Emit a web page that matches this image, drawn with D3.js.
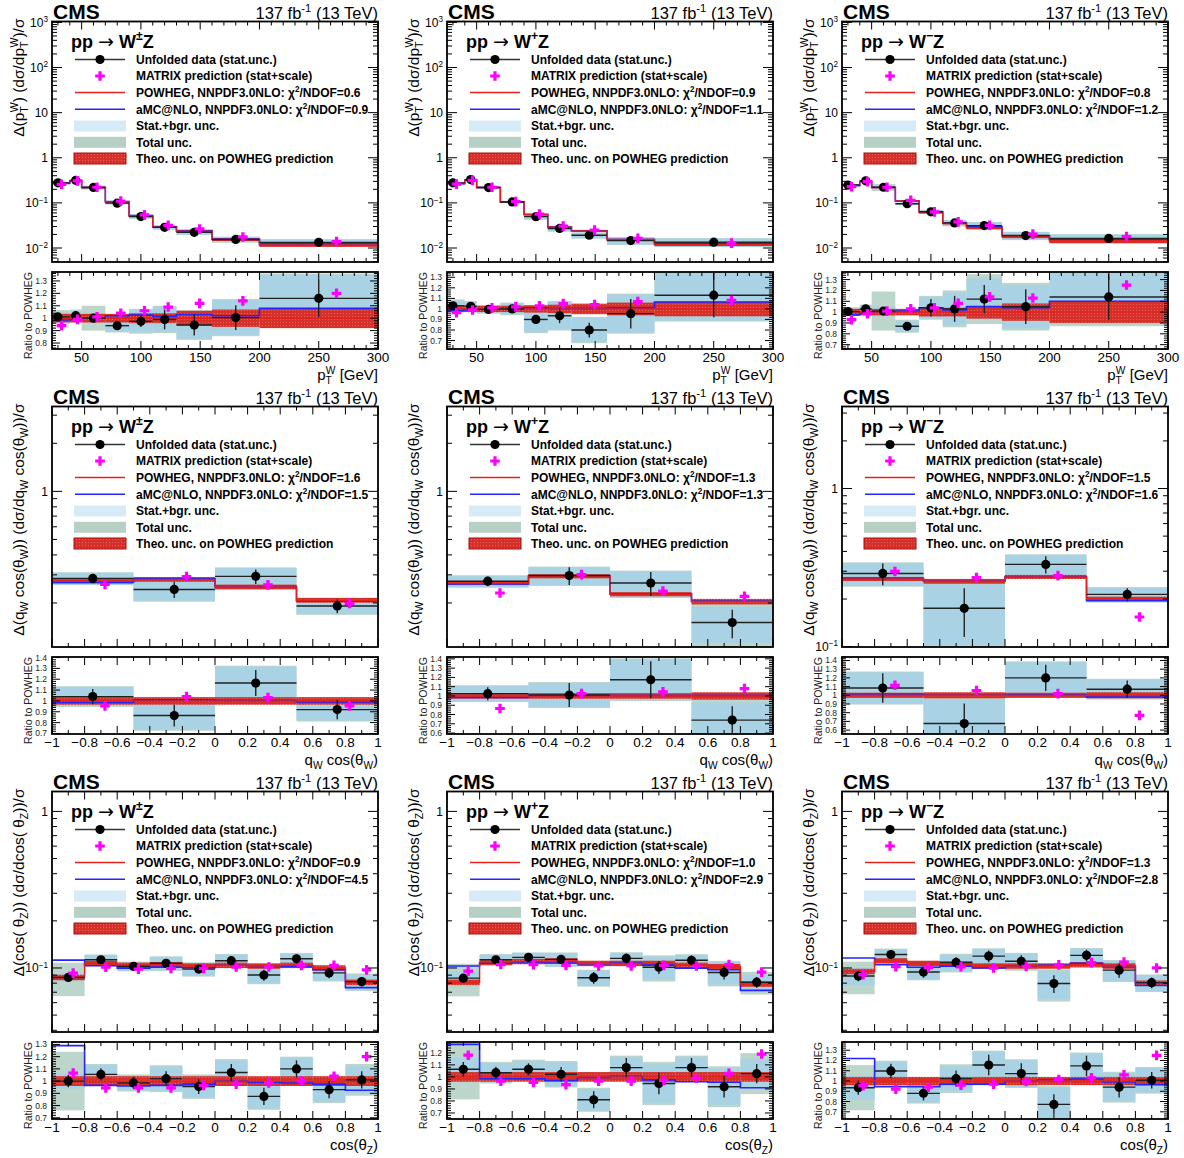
<!DOCTYPE html>
<html>
<head>
<meta charset="utf-8">
<script src="https://cdn.jsdelivr.net/npm/d3@7"></script>
<style>
  html, body { margin: 0; padding: 0; background: #fff; }
  svg { display: block; font-family: "Liberation Sans", Arial, Helvetica, sans-serif; }
</style>
</head>
<body>
<svg id="chart" width="1184" height="1158"></svg>
<script>
// ---------- binning ----------
const ptEdges = [20, 40, 50, 70, 90, 110, 130, 160, 200, 300];
const qcEdges = [-1, -0.5, 0, 0.5, 1];
const czEdges = [-1, -0.8, -0.6, -0.4, -0.2, 0, 0.2, 0.4, 0.6, 0.8, 1];

// Per-bin POWHEG normalized cross sections; everything else is a ratio to POWHEG.
// Uncertainties are half-widths in ratio units.

// ---------- p_T(W), W±Z ----------
const ptWZ_powheg  = [0.275, 0.31, 0.22, 0.105, 0.051, 0.029, 0.0236, 0.0154, 0.0115];
const ptWZ_data    = [1.01, 1.02, 1.0, 0.94, 0.975, 0.99, 0.945, 1.005, 1.16];
const ptWZ_stat    = [0.02, 0.02, 0.02, 0.02, 0.045, 0.08, 0.085, 0.1, 0.15];
const ptWZ_statBgr = [0.035, 0.04, 0.04, 0.05, 0.09, 0.1, 0.11, 0.14, 0.19];
const ptWZ_total   = [0.055, 0.05, 0.1, 0.055, 0.1, 0.11, 0.12, 0.15, 0.2];
const ptWZ_theo    = [0.035, 0.035, 0.035, 0.035, 0.04, 0.04, 0.06, 0.07, 0.08];
const ptWZ_amc     = [0.985, 0.99, 1.0, 1.02, 1.025, 1.015, 1.03, 1.02, 1.08];
const ptWZ_matrix  = [0.94, 0.99, 1.01, 1.04, 1.06, 1.09, 1.12, 1.14, 1.2];

// ---------- p_T(W), W+Z ----------
const ptWpZ_powheg  = [0.27, 0.32, 0.22, 0.105, 0.055, 0.029, 0.024, 0.0153, 0.0119];
const ptWpZ_data    = [1.03, 1.025, 0.995, 1.0, 0.9, 0.935, 0.8, 0.955, 1.13];
const ptWpZ_stat    = [0.02, 0.02, 0.02, 0.03, 0.04, 0.07, 0.07, 0.14, 0.21];
const ptWpZ_statBgr = [0.04, 0.04, 0.03, 0.05, 0.12, 0.13, 0.115, 0.18, 0.24];
const ptWpZ_total   = [0.06, 0.05, 0.04, 0.06, 0.13, 0.14, 0.125, 0.19, 0.25];
const ptWpZ_theo    = [0.03, 0.03, 0.03, 0.03, 0.035, 0.04, 0.05, 0.06, 0.07];
const ptWpZ_amc     = [0.985, 0.99, 1.0, 1.005, 1.01, 1.005, 1.005, 1.01, 1.065];
const ptWpZ_matrix  = [0.965, 0.99, 1.01, 1.02, 1.03, 1.05, 1.04, 1.07, 1.08];

// ---------- p_T(W), W-Z ----------
const ptWmZ_powheg  = [0.247, 0.30, 0.22, 0.11, 0.061, 0.035, 0.028, 0.018, 0.0143];
const ptWmZ_data    = [1.005, 1.03, 1.01, 0.87, 1.04, 1.03, 1.12, 1.05, 1.14];
const ptWmZ_stat    = [0.02, 0.02, 0.02, 0.03, 0.08, 0.12, 0.13, 0.16, 0.21];
const ptWmZ_statBgr = [0.03, 0.035, 0.04, 0.05, 0.1, 0.15, 0.19, 0.2, 0.25];
const ptWmZ_total   = [0.04, 0.04, 0.18, 0.06, 0.11, 0.17, 0.23, 0.22, 0.27];
const ptWmZ_theo    = [0.03, 0.03, 0.03, 0.03, 0.04, 0.04, 0.06, 0.08, 0.1];
const ptWmZ_amc     = [0.975, 0.99, 1.0, 1.01, 1.04, 1.02, 1.05, 1.04, 1.1];
const ptWmZ_matrix  = [0.93, 0.985, 1.01, 1.03, 1.04, 1.08, 1.14, 1.13, 1.25];

// ---------- q_W cos(theta_W), W±Z ----------
const qcWZ_powheg  = [0.274, 0.281, 0.252, 0.208];
const qcWZ_data    = [1.04, 0.865, 1.165, 0.92];
const qcWZ_stat    = [0.07, 0.1, 0.12, 0.09];
const qcWZ_statBgr = [0.09, 0.13, 0.15, 0.1];
const qcWZ_total   = [0.095, 0.14, 0.16, 0.11];
const qcWZ_theo    = [0.035, 0.035, 0.035, 0.035];
const qcWZ_amc     = [0.985, 1.01, 1.005, 0.99];
const qcWZ_matrix  = [0.955, 1.04, 1.03, 0.955];

// ---------- q_W cos(theta_W), W+Z ----------
const qcWpZ_powheg  = [0.267, 0.294, 0.227, 0.204];
const qcWpZ_data    = [1.025, 1.01, 1.175, 0.74];
const qcWpZ_stat    = [0.07, 0.13, 0.2, 0.15];
const qcWpZ_statBgr = [0.085, 0.13, 0.22, 0.19];
const qcWpZ_total   = [0.09, 0.14, 0.23, 0.23];
const qcWpZ_theo    = [0.03, 0.03, 0.03, 0.04];
const qcWpZ_amc     = [0.985, 1.005, 1.005, 1.005];
const qcWpZ_matrix  = [0.865, 1.025, 1.045, 1.08];

// ---------- q_W cos(theta_W), W-Z ----------
const qcWmZ_powheg  = [0.268, 0.259, 0.276, 0.2];
const qcWmZ_data    = [1.083, 0.675, 1.2, 1.07];
const qcWmZ_stat    = [0.17, 0.23, 0.15, 0.1];
const qcWmZ_statBgr = [0.18, 0.28, 0.18, 0.11];
const qcWmZ_total   = [0.19, 0.32, 0.19, 0.12];
const qcWmZ_theo    = [0.03, 0.035, 0.03, 0.035];
const qcWmZ_amc     = [1.01, 1.0, 1.005, 0.98];
const qcWmZ_matrix  = [1.115, 1.055, 1.02, 0.77];

// ---------- cos(theta_Z), W±Z ----------
const czWZ_powheg  = [0.087, 0.107, 0.104, 0.105, 0.103, 0.104, 0.103, 0.104, 0.1, 0.081];
const czWZ_data    = [1.0, 1.055, 0.985, 1.02, 0.955, 1.07, 0.875, 1.1, 0.93, 1.01];
const czWZ_stat    = [0.05, 0.05, 0.05, 0.06, 0.06, 0.07, 0.07, 0.07, 0.07, 0.07];
const czWZ_statBgr = [0.06, 0.075, 0.06, 0.1, 0.09, 0.1, 0.1, 0.09, 0.1, 0.11];
const czWZ_total   = [0.24, 0.085, 0.07, 0.11, 0.1, 0.11, 0.11, 0.1, 0.11, 0.13];
const czWZ_theo    = [0.04, 0.04, 0.04, 0.04, 0.04, 0.04, 0.04, 0.04, 0.04, 0.04];
const czWZ_amc     = [1.29, 0.965, 0.96, 0.965, 0.975, 1.0, 0.99, 0.985, 0.975, 0.925];
const czWZ_matrix  = [1.065, 0.945, 0.945, 0.945, 0.965, 0.975, 0.985, 1.0, 1.04, 1.2];

// ---------- cos(theta_Z), W+Z ----------
const czWpZ_powheg  = [0.081, 0.109, 0.11, 0.111, 0.107, 0.107, 0.107, 0.104, 0.102, 0.079];
const czWpZ_data    = [1.063, 1.035, 1.063, 1.022, 0.81, 1.077, 0.945, 1.077, 0.918, 1.027];
const czWpZ_stat    = [0.06, 0.05, 0.05, 0.06, 0.07, 0.08, 0.09, 0.08, 0.09, 0.08];
const czWpZ_statBgr = [0.1, 0.08, 0.07, 0.1, 0.09, 0.09, 0.16, 0.09, 0.15, 0.12];
const czWpZ_total   = [0.25, 0.09, 0.08, 0.11, 0.1, 0.1, 0.18, 0.1, 0.17, 0.17];
const czWpZ_theo    = [0.04, 0.04, 0.04, 0.04, 0.04, 0.04, 0.04, 0.04, 0.04, 0.04];
const czWpZ_amc     = [1.27, 0.985, 0.985, 0.97, 0.995, 1.005, 0.975, 0.96, 0.955, 0.91];
const czWpZ_matrix  = [1.18, 0.965, 0.955, 0.935, 0.965, 0.965, 0.97, 0.99, 1.03, 1.19];

// ---------- cos(theta_Z), W-Z ----------
const czWmZ_powheg  = [0.095, 0.111, 0.107, 0.106, 0.103, 0.103, 0.103, 0.105, 0.103, 0.08];
const czWmZ_data    = [0.935, 1.098, 0.88, 1.023, 1.156, 1.072, 0.772, 1.147, 0.94, 1.007];
const czWmZ_stat    = [0.07, 0.07, 0.07, 0.08, 0.1, 0.1, 0.1, 0.1, 0.1, 0.08];
const czWmZ_statBgr = [0.12, 0.09, 0.09, 0.12, 0.13, 0.13, 0.16, 0.12, 0.14, 0.12];
const czWmZ_total   = [0.22, 0.1, 0.1, 0.14, 0.14, 0.14, 0.18, 0.13, 0.15, 0.13];
const czWmZ_theo    = [0.04, 0.04, 0.04, 0.04, 0.04, 0.04, 0.04, 0.04, 0.04, 0.04];
const czWmZ_amc     = [1.22, 0.945, 0.945, 0.97, 0.97, 1.0, 1.01, 1.02, 0.99, 0.965];
const czWmZ_matrix  = [0.955, 0.92, 0.94, 0.96, 0.97, 0.995, 1.015, 1.03, 1.06, 1.25];

// ---------- legend / fit-quality texts ----------
const chargeLabels = ['±', '+', '−'];
const chi2Powheg = ['0.6', '0.9', '0.8', '1.6', '1.3', '1.5', '0.9', '1.0', '1.3'];
const chi2Amc    = ['0.9', '1.1', '1.2', '1.5', '1.3', '1.6', '4.5', '2.9', '2.8'];
const legendLabels = [
  'Unfolded data (stat.unc.)',
  'MATRIX prediction (stat+scale)',
  'POWHEG, NNPDF3.0NLO: ',
  'aMC@NLO, NNPDF3.0NLO: ',
  'Stat.+bgr. unc.',
  'Total unc.',
  'Theo. unc. on POWHEG prediction'
];

// ---------- panel table ----------
const sets = [
  { key: 'ptWZ',  P: [ptWZ_powheg, ptWZ_data, ptWZ_stat, ptWZ_statBgr, ptWZ_total, ptWZ_theo, ptWZ_amc, ptWZ_matrix] },
  { key: 'ptWpZ', P: [ptWpZ_powheg, ptWpZ_data, ptWpZ_stat, ptWpZ_statBgr, ptWpZ_total, ptWpZ_theo, ptWpZ_amc, ptWpZ_matrix] },
  { key: 'ptWmZ', P: [ptWmZ_powheg, ptWmZ_data, ptWmZ_stat, ptWmZ_statBgr, ptWmZ_total, ptWmZ_theo, ptWmZ_amc, ptWmZ_matrix] },
  { key: 'qcWZ',  P: [qcWZ_powheg, qcWZ_data, qcWZ_stat, qcWZ_statBgr, qcWZ_total, qcWZ_theo, qcWZ_amc, qcWZ_matrix] },
  { key: 'qcWpZ', P: [qcWpZ_powheg, qcWpZ_data, qcWpZ_stat, qcWpZ_statBgr, qcWpZ_total, qcWpZ_theo, qcWpZ_amc, qcWpZ_matrix] },
  { key: 'qcWmZ', P: [qcWmZ_powheg, qcWmZ_data, qcWmZ_stat, qcWmZ_statBgr, qcWmZ_total, qcWmZ_theo, qcWmZ_amc, qcWmZ_matrix] },
  { key: 'czWZ',  P: [czWZ_powheg, czWZ_data, czWZ_stat, czWZ_statBgr, czWZ_total, czWZ_theo, czWZ_amc, czWZ_matrix] },
  { key: 'czWpZ', P: [czWpZ_powheg, czWpZ_data, czWpZ_stat, czWpZ_statBgr, czWpZ_total, czWpZ_theo, czWpZ_amc, czWpZ_matrix] },
  { key: 'czWmZ', P: [czWmZ_powheg, czWmZ_data, czWmZ_stat, czWmZ_statBgr, czWmZ_total, czWmZ_theo, czWmZ_amc, czWmZ_matrix] }
];
// axis ranges per panel (upper log range, lower ratio range)
const upperRanges = [
  [10 ** -2.31, 10 ** 3.02], [10 ** -2.31, 10 ** 3.02], [10 ** -2.31, 10 ** 3.02],
  [0.106, 3.4], [0.106, 3.4], [0.0995, 3.3],
  [0.039, 1.34], [0.039, 1.34], [0.039, 1.34]
];
const ratioRanges = [
  [0.752, 1.372], [0.62, 1.35], [0.66, 1.37],
  [0.695, 1.405], [0.59, 1.42], [0.555, 1.44],
  [0.69, 1.32], [0.65, 1.29], [0.63, 1.38]
];

// ---------- geometry & style ----------
const PW = 395, PH = 385;
const F = { l: 52, r: 378, ut: 21.5, ub: 262, lt: 272, lb: 349 };
const C = {
  total: '#bdd6cb', stat: '#a9d3e4', statLeg: '#d6eaf8', totalLeg: '#b7d0c5',
  theo: '#d6302a', theoEdge: '#a80e0e', powheg: '#e3211c', amc: '#2424ff',
  matrix: '#ff00ff', data: '#000', err: '#222'
};
const FONT_TXT = 12;

const svg = d3.select('#chart');
const defs = svg.append('defs');

// mixed normal/super/subscript text built from tspans
function rich(sel, parts, fs) {
  let cur = 0;
  parts.forEach(p => {
    const [txt, kind, opts] = p;
    const target = kind === 1 ? -0.4 * fs : kind === -1 ? 0.28 * fs : 0;
    const ts = sel.append('tspan').text(txt).attr('dy', (target - cur).toFixed(2));
    if (kind) ts.attr('font-size', (fs * 0.68).toFixed(2));
    if (opts && opts.dx !== undefined) ts.attr('dx', opts.dx);
    if (opts && opts.w) ts.attr('font-weight', opts.w);
    if (opts && opts.fs) ts.attr('font-size', opts.fs);
    if (opts && opts.ff) ts.attr('font-family', opts.ff);
    cur = target;
  });
  return sel;
}

function linTicks(dom, step) {
  const s = Math.ceil(dom[0] / step - 1e-7), e = Math.floor(dom[1] / step + 1e-7);
  return d3.range(s, e + 1).map(k => +(k * step).toFixed(6));
}
const isMult = (v, step) => Math.abs(v / step - Math.round(v / step)) < 1e-6;

function stepPoints(edges, vals) {
  const pts = [];
  vals.forEach((v, i) => { pts.push([edges[i], v], [edges[i + 1], v]); });
  return pts;
}

function drawPanel(idx) {
  const col = idx % 3, row = Math.floor(idx / 3);
  const [powheg, data, stat, statBgr, total, theo, amc, matrix] = sets[idx].P;
  const kind = row === 0 ? 'pt' : row === 1 ? 'qc' : 'cz';
  const edges = kind === 'pt' ? ptEdges : kind === 'qc' ? qcEdges : czEdges;
  const xDom = kind === 'pt' ? [25, 300] : [-1, 1];

  const g = svg.append('g').attr('transform', `translate(${col * PW},${row * PH})`);
  const x = d3.scaleLinear().domain(xDom).range([F.l, F.r]);
  const yU = d3.scaleLog().domain(upperRanges[idx]).range([F.ub, F.ut]);
  const yL = d3.scaleLinear().domain(ratioRanges[idx]).range([F.lb, F.lt]);

  const bins = d3.range(edges.length - 1).map(i => ({
    i, lo: edges[i], hi: edges[i + 1], c: (edges[i] + edges[i + 1]) / 2, w: edges[i + 1] - edges[i]
  }));

  defs.append('clipPath').attr('id', `clipU${idx}`).append('rect')
    .attr('x', F.l).attr('y', F.ut).attr('width', F.r - F.l).attr('height', F.ub - F.ut);
  defs.append('clipPath').attr('id', `clipL${idx}`).append('rect')
    .attr('x', F.l).attr('y', F.lt).attr('width', F.r - F.l).attr('height', F.lb - F.lt);

  // content of one pad; norm[i] converts a ratio into the pad's quantity
  function content(pad, y, norm) {
    const band = (lo, hi, fill) => {
      pad.append('g').selectAll('rect').data(bins).join('rect')
        .attr('x', d => x(d.lo)).attr('width', d => x(d.hi) - x(d.lo))
        .attr('y', d => y(hi(d)))
        .attr('height', d => Math.max(0, y(lo(d)) - y(hi(d))))
        .attr('fill', fill);
    };
    band(d => norm[d.i] * (data[d.i] - total[d.i]), d => norm[d.i] * (data[d.i] + total[d.i]), C.total);
    band(d => norm[d.i] * (data[d.i] - statBgr[d.i]), d => norm[d.i] * (data[d.i] + statBgr[d.i]), C.stat);
    band(d => norm[d.i] * (1 - theo[d.i]), d => norm[d.i] * (1 + theo[d.i]), 'url(#theoFill)');

    const line = d3.line().x(p => x(p[0])).y(p => y(p[1]));
    pad.append('path').attr('d', line(stepPoints(edges, amc.map((v, i) => v * norm[i]))))
      .attr('fill', 'none').attr('stroke', C.amc).attr('stroke-width', 1.6);
    pad.append('path').attr('d', line(stepPoints(edges, norm.map(v => v))))
      .attr('fill', 'none').attr('stroke', C.powheg).attr('stroke-width', 1.4);

    // data with statistical errors
    const dg = pad.append('g');
    dg.selectAll('line.h').data(bins).join('line').attr('class', 'h')
      .attr('x1', d => x(d.lo)).attr('x2', d => x(d.hi))
      .attr('y1', d => y(norm[d.i] * data[d.i])).attr('y2', d => y(norm[d.i] * data[d.i]))
      .attr('stroke', C.err).attr('stroke-width', 1.4);
    dg.selectAll('line.v').data(bins).join('line').attr('class', 'v')
      .attr('x1', d => x(d.c)).attr('x2', d => x(d.c))
      .attr('y1', d => y(norm[d.i] * (data[d.i] - stat[d.i])))
      .attr('y2', d => y(norm[d.i] * (data[d.i] + stat[d.i])))
      .attr('stroke', C.err).attr('stroke-width', 1.4);
    dg.selectAll('circle').data(bins).join('circle')
      .attr('cx', d => x(d.c)).attr('cy', d => y(norm[d.i] * data[d.i]))
      .attr('r', 4.6).attr('fill', C.data);

    // MATRIX predictions, drawn slightly right of the bin centre
    pad.append('g').selectAll('path').data(bins).join('path')
      .attr('d', d3.symbol(d3.symbolCross, 52))
      .attr('transform', d => `translate(${x(d.c + 0.15 * d.w)},${y(norm[d.i] * matrix[d.i])})`)
      .attr('fill', C.matrix);
  }

  const up = g.append('g').attr('clip-path', `url(#clipU${idx})`);
  content(up, yU, powheg);
  const lo = g.append('g').attr('clip-path', `url(#clipL${idx})`);
  content(lo, yL, powheg.map(() => 1));

  // ----- frames & ticks -----
  const ax = g.append('g').attr('stroke', '#000').attr('stroke-width', 1);
  const xMajor = kind === 'pt' ? 50 : 0.2, xMinor = kind === 'pt' ? 10 : 0.1;
  const xt = linTicks(xDom, xMinor);
  [[F.ut, F.ub], [F.lt, F.lb]].forEach(([t, b]) => {
    xt.forEach(v => {
      const L = isMult(v, xMajor) ? 8 : 4;
      ax.append('line').attr('x1', x(v)).attr('x2', x(v)).attr('y1', b).attr('y2', b - L);
      ax.append('line').attr('x1', x(v)).attr('x2', x(v)).attr('y1', t).attr('y2', t + L);
    });
  });
  // log ticks (upper)
  const [ymin, ymax] = upperRanges[idx];
  const logT = [];
  for (let k = Math.floor(Math.log10(ymin)); k <= Math.ceil(Math.log10(ymax)); k++) {
    for (let m = 1; m <= 9; m++) {
      const v = m * 10 ** k;
      if (v >= ymin * 0.999 && v <= ymax * 1.001) logT.push({ v, major: m === 1, k });
    }
  }
  logT.forEach(t => {
    const L = t.major ? 10 : 5;
    ax.append('line').attr('x1', F.l).attr('x2', F.l + L).attr('y1', yU(t.v)).attr('y2', yU(t.v));
    ax.append('line').attr('x1', F.r).attr('x2', F.r - L).attr('y1', yU(t.v)).attr('y2', yU(t.v));
  });
  // ratio ticks (lower)
  const rt = linTicks(ratioRanges[idx], 0.02);
  rt.forEach(v => {
    const L = isMult(v, 0.1) ? 8 : 4;
    ax.append('line').attr('x1', F.l).attr('x2', F.l + L).attr('y1', yL(v)).attr('y2', yL(v));
    ax.append('line').attr('x1', F.r).attr('x2', F.r - L).attr('y1', yL(v)).attr('y2', yL(v));
  });
  const fr = g.append('g').attr('fill', 'none').attr('stroke', '#000').attr('stroke-width', 1.8);
  fr.append('rect').attr('x', F.l).attr('y', F.ut).attr('width', F.r - F.l).attr('height', F.ub - F.ut);
  fr.append('rect').attr('x', F.l).attr('y', F.lt).attr('width', F.r - F.l).attr('height', F.lb - F.lt);

  // ----- tick labels -----
  const lab = g.append('g').attr('fill', '#000');
  logT.filter(t => t.major).forEach(t => {
    const tx = lab.append('text').attr('x', 48).attr('y', yU(t.v) + 4.5)
      .attr('text-anchor', 'end').attr('font-size', 12);
    if (t.k === 0) tx.text('1');
    else if (t.k === 1) tx.text('10');
    else rich(tx, [['10', 0], [String(t.k).replace('-', '−'), 1]], 12);
  });
  linTicks(ratioRanges[idx], 0.1).forEach(v => {
    lab.append('text').attr('x', 47).attr('y', yL(v) + 3)
      .attr('text-anchor', 'end').attr('font-size', 8.5).attr('fill', '#222')
      .text(String(+v.toFixed(1)));
  });
  linTicks(xDom, xMajor).forEach(v => {
    lab.append('text').attr('x', x(v)).attr('y', 362).attr('text-anchor', 'middle')
      .attr('font-size', 13.5).text(String(+v.toFixed(1)).replace('-', '−'));
  });

  // ----- axis titles -----
  const xt2 = lab.append('text').attr('x', F.r).attr('y', 380).attr('text-anchor', 'end').attr('font-size', 15);
  if (kind === 'pt') rich(xt2, [['p', 0], ['T', -1], ['W', 1, { dx: -6 }], [' [GeV]', 0]], 15);
  else if (kind === 'qc') rich(xt2, [['q', 0], ['W', -1], [' cos(θ', 0], ['W', -1], [')', 0]], 15);
  else rich(xt2, [['cos(θ', 0], ['Z', -1], [')', 0]], 15);

  const yt = lab.append('text').attr('transform', `translate(24,${F.ut - 3}) rotate(-90)`)
    .attr('text-anchor', 'end').attr('font-size', 15.5);
  if (kind === 'pt') rich(yt, [['Δ(p', 0], ['T', -1], ['W', 1, { dx: -6 }], [') (dσ/dp', 0], ['T', -1], ['W', 1, { dx: -6 }], [')/σ', 0]], 15.5);
  else if (kind === 'qc') rich(yt, [['Δ(q', 0], ['W', -1], [' cos(θ', 0], ['W', -1], [')) (dσ/dq', 0], ['W', -1], [' cos(θ', 0], ['W', -1], ['))/σ', 0]], 15.5);
  else rich(yt, [['Δ(cos( θ', 0], ['Z', -1], [')) (dσ/dcos( θ', 0], ['Z', -1], ['))/σ', 0]], 15.5);

  lab.append('text').attr('transform', `translate(32,${F.lt}) rotate(-90)`)
    .attr('text-anchor', 'end').attr('font-size', 10.5).attr('fill', '#222').text('Ratio to POWHEG');

  // ----- header -----
  lab.append('text').attr('x', 53).attr('y', 19).attr('font-size', 21).attr('font-weight', 'bold').text('CMS');
  const lumi = lab.append('text').attr('x', F.r).attr('y', 18.5).attr('text-anchor', 'end').attr('font-size', 16.5);
  rich(lumi, [['137 fb', 0], ['-1', 1], [' (13 TeV)', 0]], 16.5);

  // ----- legend -----
  const lg = g.append('g');
  const proc = lg.append('text').attr('x', 71).attr('y', 47.5).attr('font-size', 18).attr('font-weight', 'bold');
  rich(proc, [['pp ', 0], ['→', 0, { w: 'normal', ff: 'DejaVu Sans', fs: 19 }], [' W', 0], [chargeLabels[col], 1], ['Z', 0]], 18);

  const rowsY = [59.5, 76, 92.5, 109.3, 126, 142.3, 158.5];
  rowsY.forEach((yy, k) => {
    const t = lg.append('text').attr('x', 136).attr('y', yy + 4.2).attr('font-size', FONT_TXT).attr('font-weight', 'bold');
    if (k === 2 || k === 3) {
      const chi = k === 2 ? chi2Powheg[idx] : chi2Amc[idx];
      rich(t, [[legendLabels[k] + 'χ', 0], ['2', 1], ['/NDOF=' + chi, 0]], FONT_TXT);
    } else t.text(legendLabels[k]);
  });
  // symbols
  lg.append('line').attr('x1', 75).attr('x2', 125).attr('y1', rowsY[0]).attr('y2', rowsY[0]).attr('stroke', '#333').attr('stroke-width', 1.6);
  lg.append('circle').attr('cx', 100).attr('cy', rowsY[0]).attr('r', 4.6).attr('fill', C.data);
  lg.append('path').attr('d', d3.symbol(d3.symbolCross, 52)).attr('transform', `translate(100,${rowsY[1]})`).attr('fill', C.matrix);
  lg.append('line').attr('x1', 75).attr('x2', 125).attr('y1', rowsY[2]).attr('y2', rowsY[2]).attr('stroke', C.powheg).attr('stroke-width', 1.4);
  lg.append('line').attr('x1', 75).attr('x2', 125).attr('y1', rowsY[3]).attr('y2', rowsY[3]).attr('stroke', C.amc).attr('stroke-width', 1.4);
  lg.append('rect').attr('x', 74).attr('y', rowsY[4] - 5.5).attr('width', 52).attr('height', 11).attr('fill', C.statLeg);
  lg.append('rect').attr('x', 74).attr('y', rowsY[5] - 5.5).attr('width', 52).attr('height', 11).attr('fill', C.totalLeg);
  lg.append('rect').attr('x', 74).attr('y', rowsY[6] - 5.5).attr('width', 52).attr('height', 11)
    .attr('fill', 'url(#theoFill)').attr('stroke', C.theoEdge).attr('stroke-width', 1);
}

// fine-grained fill for the theory band
const pat = defs.append('pattern').attr('id', 'theoFill').attr('patternUnits', 'userSpaceOnUse')
  .attr('width', 3).attr('height', 3);
pat.append('rect').attr('width', 3).attr('height', 3).attr('fill', C.theo);
pat.append('rect').attr('x', 1).attr('y', 1).attr('width', 1).attr('height', 1).attr('fill', '#e4605a');

sets.forEach((_, i) => drawPanel(i));
</script>
</body>
</html>
